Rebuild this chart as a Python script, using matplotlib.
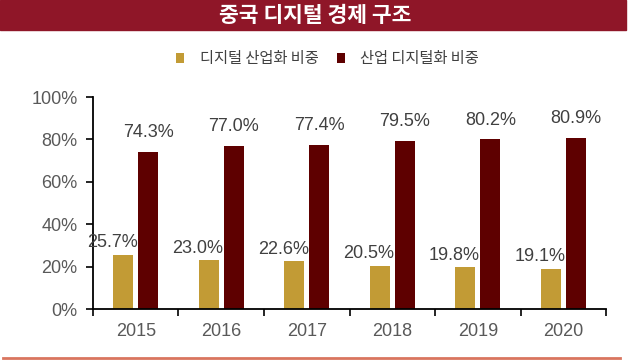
import numpy as np
import matplotlib
matplotlib.use("Agg")
import matplotlib.pyplot as plt
from matplotlib.patches import Rectangle

plt.rcParams['font.family'] = ['Liberation Sans', 'Noto Sans CJK KR', 'DejaVu Sans']

title = "중국 디지털 경제 구조"
years = ["2015", "2016", "2017", "2018", "2019", "2020"]
series_names = ["디지털 산업화 비중", "산업 디지털화 비중"]
digital_industry = [25.7, 23.0, 22.6, 20.5, 19.8, 19.1]
industry_digital = [74.3, 77.0, 77.4, 79.5, 80.2, 80.9]

gold = "#C29B35"
maroon = "#5E0000"
banner_red = "#8F1628"

fig = plt.figure(figsize=(6.3, 3.61), dpi=100)
ax = fig.add_axes([0.1476, 0.144, 0.962 - 0.1476, 0.731 - 0.144])

# title banner across the top
fig.patches.append(Rectangle((0, 1 - 30 / 361), 626 / 630, 30 / 361,
                             transform=fig.transFigure, color=banner_red, zorder=0))
fig.text(0.5, 1 - 15 / 361, title, color="white", fontsize=15.5, fontweight="bold",
         ha="center", va="center", family=["Noto Sans CJK KR", "DejaVu Sans"])

# bottom rule
fig.add_artist(plt.Line2D([3 / 630, 620 / 630], [1 - 358 / 361] * 2,
                          transform=fig.transFigure, color="#D9755F", lw=2))

x = np.arange(len(years))
w = 0.234
off = 0.146
b1 = ax.bar(x - off, digital_industry, w, color=gold, label=series_names[0])
b2 = ax.bar(x + off, industry_digital, w, color=maroon, label=series_names[1])

# value labels
for xi, v in zip(x, digital_industry):
    ax.annotate(f"{v:.1f}%", (xi - off, v), xytext=(-8, 8.5), textcoords="offset points",
                ha="center", va="center", fontsize=13, color="#404040")
for xi, v in zip(x, industry_digital):
    ax.annotate(f"{v:.1f}%", (xi + off, v), xytext=(0, 13.7), textcoords="offset points",
                ha="center", va="center", fontsize=13, color="#404040")

ax.set_xlim(-0.5, len(years) - 0.5)
ax.set_ylim(0, 100)
ax.set_yticks(np.arange(0, 101, 20))
ax.set_yticklabels([f"{t}%" for t in range(0, 101, 20)])
ax.set_xticks(x)
ax.set_xticklabels(years)
ax.set_xticks(np.arange(-0.5, len(years)), minor=True)
ax.tick_params(axis="x", which="major", length=0, pad=10)
ax.tick_params(axis="x", which="minor", length=5, width=1.2, direction="out")
ax.tick_params(axis="y", length=5, width=1.2, direction="out", pad=6)
ax.tick_params(labelsize=13, labelcolor="#595959")

for s in ["top", "right"]:
    ax.spines[s].set_visible(False)
for s in ["left", "bottom"]:
    ax.spines[s].set_linewidth(1.3)
    ax.spines[s].set_color("black")

leg = fig.legend(handles=[b1, b2], loc="center", bbox_to_anchor=(0.52, 1 - 59 / 361),
                 ncol=2, frameon=False, handlelength=0.55, handleheight=0.55,
                 handletextpad=1.0, columnspacing=1.2,
                 prop={"family": ["Noto Sans CJK KR"], "size": 11})
for t in leg.get_texts():
    t.set_color("#404040")

fig.savefig("out.png", dpi=100)
